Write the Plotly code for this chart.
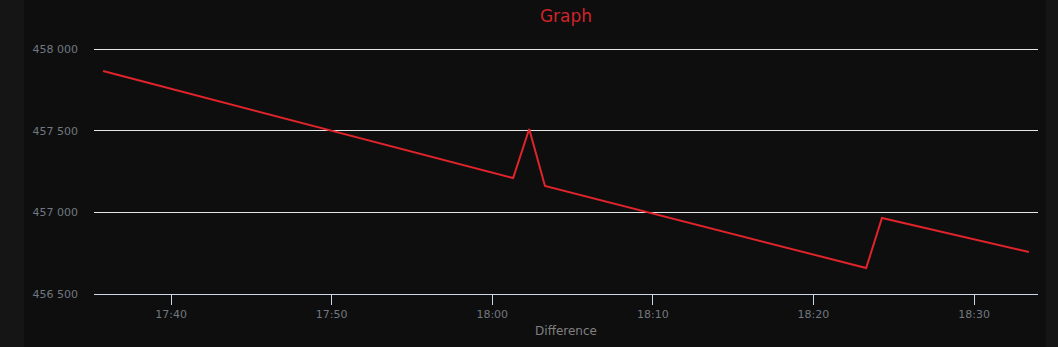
import plotly.graph_objects as go

times = ["2024-01-01 17:35:46", "2024-01-01 18:01:18", "2024-01-01 18:02:18",
         "2024-01-01 18:03:17", "2024-01-01 18:23:17", "2024-01-01 18:24:16",
         "2024-01-01 18:33:25"]
values = [457865, 457210, 457510, 457161, 456659, 456965, 456757]
y_ticks = [456500, 457000, 457500, 458000]
title_text = "Graph"
x_title = "Difference"

fig = go.Figure()
fig.add_trace(go.Scatter(x=times, y=values, mode="lines",
                         line=dict(color="#e0242b", width=2), hoverinfo="x+y"))

W, H = 1058, 347
grid_h = 245           # pixels between lowest and highest gridline
pad_px = 2             # headroom so plotly keeps the top gridline
l, r, t, b = 94, 20, 49 - pad_px, 53
pw = W - l - r
def px(x):
    return (x - l) / pw

ymin, ymax = min(y_ticks), max(y_ticks)
ypad = pad_px * (ymax - ymin) / grid_h

fig.add_shape(type="rect", xref="paper", yref="paper", x0=px(0), x1=px(24),
              y0=-1, y1=2, fillcolor="#151515", line_width=0, layer="below")
fig.add_shape(type="rect", xref="paper", yref="paper", x0=px(1046), x1=px(1058),
              y0=-1, y1=2, fillcolor="#151515", line_width=0, layer="below")

fig.update_layout(
    width=W, height=H,
    margin=dict(l=l, r=r, t=t, b=b, autoexpand=False),
    paper_bgcolor="#0e0e0e", plot_bgcolor="#0e0e0e",
    separators=". ",
    showlegend=False,
    font=dict(family="DejaVu Sans", size=11, color="#707880"),
    title=dict(text=title_text, x=0.5, xref="paper", xanchor="center",
               y=1 - 16 / H, yanchor="middle",
               font=dict(family="DejaVu Sans", size=17, color="#d0242b")),
    xaxis=dict(
        type="date", automargin=False,
        range=["2024-01-01 17:35:12", "2024-01-01 18:33:59"],
        tick0="2024-01-01 17:40:00", dtick=600000, tickformat="%H:%M",
        showgrid=False, zeroline=False,
        showline=True, linecolor="#ccd6eb", linewidth=1,
        ticks="outside", ticklen=10, tickcolor="#ccd6eb", tickwidth=1,
        tickfont=dict(size=11, color="#707880"),
        title=dict(text=x_title, font=dict(size=12, color="#808080"), standoff=6),
    ),
    yaxis=dict(
        range=[ymin, ymax + ypad], automargin=False,
        tickvals=y_ticks, tickformat=",d",
        showgrid=True, gridcolor="#e6e6e6", gridwidth=1,
        zeroline=False, showline=False, ticks="",
        ticklabelstandoff=15,
        tickfont=dict(size=11, color="#707880"),
    ),
)

fig.write_html("out.html")
